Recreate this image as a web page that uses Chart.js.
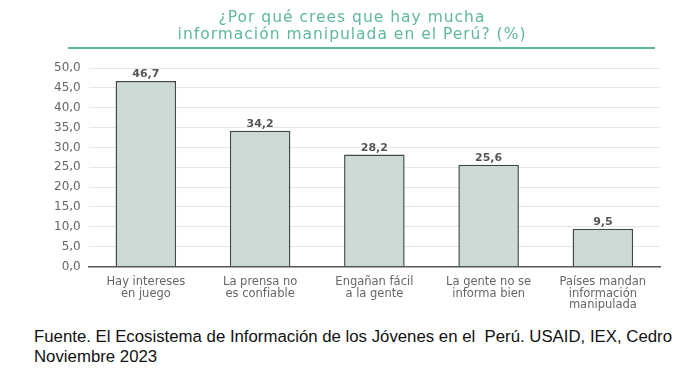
<!DOCTYPE html>
<html lang="es">
<head>
<meta charset="UTF-8">
<title>¿Por qué crees que hay mucha información manipulada en el Perú?</title>
<script src="https://cdn.jsdelivr.net/npm/chart.js@4.4.1/dist/chart.umd.min.js"></script>
<style>
    body { margin: 0; background: #fff; width: 684px; height: 371px; overflow: hidden; }
    .chart-box { position: absolute; left: 0; top: 0; width: 684px; height: 313px; }
    .fuente {
        position: absolute; left: 34px; top: 327px;
        font-family: "Liberation Sans", Arial, sans-serif;
        font-size: 16.8px; line-height: 20px; color: #111;
    }
</style>
</head>
<body>
<div class="chart-box"><canvas id="chart"></canvas></div>
<div class="fuente">Fuente. El Ecosistema de Información de los Jóvenes en el&nbsp; Perú. USAID, IEX, Cedro<br>Noviembre 2023</div>
<script>
const categories = [
    ['Hay intereses', 'en juego'],
    ['La prensa no', 'es confiable'],
    ['Engañan fácil', 'a la gente'],
    ['La gente no se', 'informa bien'],
    ['Países mandan', 'información', 'manipulada']
];
const values = [46.7, 34.2, 28.2, 25.6, 9.5];
const titleLines = ['¿Por qué crees que hay mucha', 'información manipulada en el Perú? (%)'];

const teal = '#5fb79f';
const font = '"DejaVu Sans", sans-serif';

// title, line under it, and value labels above the bars
const extras = {
    id: 'extras',
    afterDraw(chart) {
        const ctx = chart.ctx;
        ctx.save();
        ctx.fillStyle = teal;
        ctx.font = '15.5px ' + font;
        ctx.letterSpacing = '1px';
        ctx.textAlign = 'center';
        ctx.textBaseline = 'middle';
        ctx.fillText(titleLines[0], 352, 18);
        ctx.fillText(titleLines[1], 352, 35);
        ctx.letterSpacing = '0px';

        ctx.strokeStyle = teal;
        ctx.lineWidth = 2;
        ctx.beginPath();
        ctx.moveTo(68, 48);
        ctx.lineTo(655, 48);
        ctx.stroke();

        ctx.fillStyle = '#555';
        ctx.font = 'bold 11px ' + font;
        ctx.textBaseline = 'bottom';
        chart.getDatasetMeta(0).data.forEach((bar, i) => {
            ctx.fillText(values[i].toFixed(1).replace('.', ','), bar.x, bar.y - 1);
        });
        ctx.restore();
    }
};

new Chart(document.getElementById('chart'), {
    type: 'bar',
    data: {
        labels: categories,
        datasets: [{
            data: values,
            backgroundColor: '#cdd9d5',
            borderColor: '#3f4946',
            borderWidth: { top: 1.5, left: 1.5, right: 1.5, bottom: 0 },
            borderSkipped: false,
            barPercentage: 0.53,
            categoryPercentage: 1
        }]
    },
    options: {
        responsive: true,
        maintainAspectRatio: false,
        animation: false,
        layout: { padding: { left: 46, right: 24, top: 68, bottom: 0 } },
        plugins: {
            legend: { display: false },
            tooltip: { enabled: false },
            title: { display: false }
        },
        scales: {
            x: {
                grid: { display: false },
                border: { color: '#555', width: 1.5 },
                ticks: {
                    color: '#666',
                    font: { family: font, size: 11.5, lineHeight: 1.0 },
                    maxRotation: 0,
                    padding: 2
                }
            },
            y: {
                min: 0,
                max: 50,
                grid: { color: '#e6e6e6', drawTicks: false },
                border: { display: false },
                ticks: {
                    stepSize: 5,
                    color: '#666',
                    padding: 8,
                    font: { family: font, size: 12 },
                    callback: v => v.toFixed(1).replace('.', ',')
                }
            }
        }
    },
    plugins: [extras]
});
</script>
</body>
</html>
